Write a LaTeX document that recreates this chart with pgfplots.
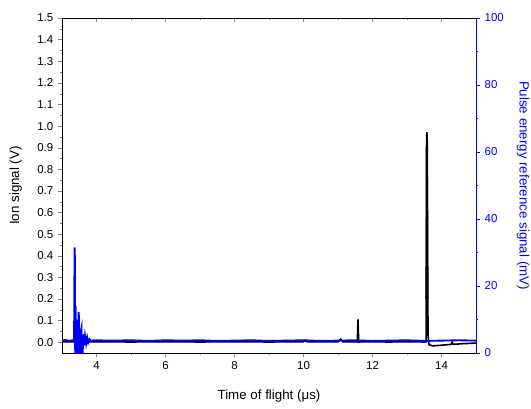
\documentclass[border=0pt]{standalone}
\usepackage{fontspec}
\setmainfont{Liberation Sans}
\usepackage{pgfplots}
\pgfplotsset{compat=1.18}
\begin{document}
\begin{tikzpicture}
\pgfplotsset{
  every axis/.append style={
    scale only axis, width=310.5pt, height=251.25pt,
    xmin=3, xmax=15,
    /pgf/number format/assume math mode=true,
    tick label style={font=\fontsize{8.6}{10}\selectfont},
    label style={font=\fontsize{11.5}{13}\selectfont},
    major tick length=3pt, minor tick length=1.8pt,
    axis line style={-},
  }
}
\begin{axis}[
  axis x line*=bottom, axis y line*=left, tick align=outside,
  ymin=-0.05, ymax=1.5,
  xtick={4,6,8,10,12,14}, minor x tick num=1,
  ytick={0,0.1,0.2,0.3,0.4,0.5,0.6,0.7,0.8,0.9,1.0,1.1,1.2,1.3,1.4,1.5},
  minor y tick num=1,
  yticklabel style={/pgf/number format/.cd, fixed, fixed zerofill, precision=1},
  xlabel={Time of flight (μs)},
  ylabel={Ion signal (V)},
  every axis x label/.style={at={(axis description cs:0.5,-0.128)}, anchor=center},
  every axis y label/.style={at={(axis description cs:-0.112,0.5)}, rotate=90, anchor=center},
]
\coordinate (sw) at (rel axis cs:0,0);
\coordinate (ne) at (rel axis cs:1,1);
\addplot[black, line width=1.2pt] coordinates {
(3.0,0.002)(3.5,0.001)(4.0,0.002)(5.0,0.001)(6.0,0.002)(7.0,0.001)(8.0,0.002)(9.0,0.001)
(10.0,0.002)(10.05,0.009)(10.1,0.002)(11.0,0.002)(11.08,0.014)(11.14,0.002)
(11.56,0.002)(11.57,0.06)(11.58,0.106)(11.59,0.05)(11.60,0.0)(11.65,0.002)
(12.5,0.001)(13.0,0.002)(13.5,0.001)(13.555,0.002)(13.565,0.5)(13.575,0.972)(13.585,0.95)(13.595,0.5)(13.61,0.03)(13.64,-0.012)
(13.75,-0.017)(14.0,-0.014)(14.28,-0.010)(14.31,0.0)(14.34,-0.010)(14.6,-0.007)(15.0,-0.004)
};
\addplot[black, line width=1.6pt] coordinates {(13.565,0.2)(13.575,0.96)(13.585,0.2)};
\end{axis}
\begin{axis}[
  axis x line*=top, hide y axis, tick align=inside,
  ymin=0, ymax=1,
  xtick={4,6,8,10,12,14}, minor x tick num=1, xticklabels={},
]
\end{axis}
\begin{axis}[
  axis y line*=right, hide x axis, tick align=outside,
  ymin=0, ymax=100,
  ytick={0,20,40,60,80,100}, minor y tick num=1,
  y axis line style={blue}, ytick style={blue}, yticklabel style={blue},
  ylabel={Pulse energy reference signal (mV)},
  every axis y label/.style={at={(axis description cs:1.1135,0.5)}, rotate=-90, anchor=center, blue},
]
\addplot[blue, line width=1.4pt] coordinates {
(3.0,3.7)(3.1,3.9)(3.2,3.6)(3.3,3.8)(3.35,3.7)
(3.365,31.5)(3.375,28)(3.385,-10)(3.395,14)(3.405,-10)(3.415,9)(3.425,-10)(3.435,8)(3.445,-10)(3.455,10)(3.465,-10)
(3.48,12.2)(3.49,11)(3.50,-10)(3.51,6)(3.52,-10)(3.53,5)(3.54,-8)(3.555,7)(3.565,7.5)(3.575,-3)(3.585,5)(3.595,-1)
(3.61,3)(3.63,5.6)(3.65,2.3)(3.67,5.0)(3.70,2.8)(3.73,4.6)(3.76,3.1)(3.80,4.1)(3.85,3.5)(3.9,3.8)
(4.5,3.7)(5.0,3.8)(5.5,3.6)(6.0,3.8)(6.5,3.7)(7.0,3.8)(7.5,3.6)(8.0,3.7)(8.5,3.8)(9.0,3.6)(9.5,3.7)
(10.0,3.8)(10.5,3.6)(11.0,3.7)(11.5,3.8)(12.0,3.6)(12.5,3.7)(13.0,3.8)(13.5,3.6)(14.0,3.7)(14.5,3.8)(15.0,3.7)
};
\end{axis}
\pgfresetboundingbox
\path ([shift={(-46.5pt,-41.25pt)}]sw) rectangle ([shift={(41.25pt,13.5pt)}]ne);
\end{tikzpicture}
\end{document}
